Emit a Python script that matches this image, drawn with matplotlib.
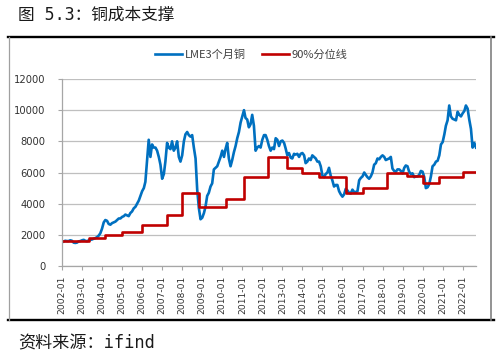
import matplotlib
matplotlib.use("Agg")
import matplotlib.pyplot as plt
import matplotlib.dates as mdates
from matplotlib.lines import Line2D
import pandas as pd

plt.rcParams["font.family"] = ["Noto Sans CJK SC", "DejaVu Sans"]

# LME 3-month copper, monthly, 2002-01 .. 2022-09 (USD/t)
copper_2002_2005 = [
    1520, 1570, 1620, 1600, 1600, 1650, 1620, 1500, 1480, 1500, 1580, 1600,
    1650, 1680, 1620, 1590, 1640, 1680, 1700, 1750, 1790, 1850, 1950, 2100,
    2400, 2800, 2950, 2900, 2700, 2650, 2750, 2800, 2850, 2950, 3050, 3050,
    3150, 3200, 3300, 3250, 3200, 3400, 3500, 3700, 3800, 4000, 4200, 4500,
]
copper_2006_2011 = [
    4800, 5000, 5400, 6800, 8100, 7000, 7800, 7600, 7600, 7400, 7000, 6500,
    5600, 5900, 6700, 7900, 7600, 7500, 8000, 7400, 7600, 8000, 7000, 6700,
    7100, 8000, 8450, 8600, 8400, 8300, 8400, 7600, 6900, 4900, 3700, 3000,
    3100, 3400, 3800, 4500, 4700, 5100, 5300, 6200, 6300, 6400, 6700, 7000,
    7400, 7000, 7500, 7900, 6900, 6400, 6800, 7300, 7700, 8200, 8600, 9200,
    9600, 10000, 9500, 9400, 8900, 9100, 9700, 9000, 7400, 7600, 7700, 7600,
]
copper_2012_2017 = [
    8100, 8400, 8400, 8100, 7700, 7400, 7600, 7500, 8200, 8100, 7700, 8000,
    8050, 7900, 7550, 7100, 7250, 6950, 6900, 7200, 7150, 7200, 7000, 7200,
    7250, 7100, 6600, 6700, 6900, 6800, 7100, 7000, 6900, 6700, 6700, 6400,
    5800, 5700, 5900, 6000, 6300, 5800, 5500, 5100, 5200, 5200, 4800, 4600,
    4450, 4600, 4950, 4850, 4700, 4650, 4900, 4750, 4750, 4800, 5500, 5650,
    5750, 6000, 5850, 5700, 5600, 5750, 6000, 6500, 6600, 6900, 6850, 7000,
]
copper_2018_2022 = [
    7100, 7000, 6800, 6850, 6900, 7000, 6250, 6100, 6050, 6200, 6200, 6100,
    5950, 6300, 6450, 6400, 6050, 5900, 5950, 5700, 5750, 5750, 5850, 6100,
    6050, 5700, 5000, 5050, 5250, 5750, 6400, 6500, 6700, 6750, 7100, 7800,
    7950, 8450, 9000, 9350, 10300, 9600, 9450, 9400, 9350, 9900, 9700, 9600,
    9800, 9950, 10300, 10100, 9400, 8800, 7600, 7900, 7600,
]
copper = copper_2002_2005 + copper_2006_2011 + copper_2012_2017 + copper_2018_2022
copper_dates = pd.date_range("2002-01-01", periods=len(copper), freq="MS")

# 90% quantile cost line: start date of each level and its value
cost_starts = [
    "2002-01-01", "2003-05-01", "2004-02-15", "2005-01-01", "2006-01-01",
    "2007-03-25", "2008-01-01", "2008-11-01", "2010-03-01", "2011-02-01",
    "2012-04-07", "2013-03-20", "2014-01-01", "2014-11-01", "2016-03-01",
    "2017-01-01", "2018-03-20", "2019-03-20", "2020-01-01", "2020-11-01",
    "2022-01-01", "2022-09-01",
]
cost_values = [
    1600, 1800, 2000, 2200, 2600, 3300, 4700, 3800, 4300, 5700,
    7000, 6300, 6000, 5700, 4700, 5000, 6000, 5800, 5300, 5700,
    6050, 6050,
]
cost_dates = pd.to_datetime(cost_starts)

tick_years = list(range(2002, 2023))
y_ticks = [0, 2000, 4000, 6000, 8000, 10000, 12000]

fig = plt.figure(figsize=(5.02, 3.57), dpi=100)
ax = fig.add_axes([0.1235, 0.2549, 0.8247, 0.5238])

ax.plot(copper_dates, copper, color="#0070C0", lw=1.9, label="LME3个月铜")
ax.plot(cost_dates, cost_values, color="#C00000", lw=1.9,
        drawstyle="steps-post", label="90%分位线")

ax.set_xlim(copper_dates[0], copper_dates[-1])
ax.set_ylim(0, 12000)
ax.set_yticks(y_ticks)
ax.set_yticklabels([str(v) for v in y_ticks], fontsize=7.2, family="DejaVu Sans",
                   color="#333333")
ax.set_xticks(pd.to_datetime([f"{y}-01-01" for y in tick_years]))
ax.xaxis.set_major_formatter(mdates.DateFormatter("%Y-%m"))
for lab in ax.get_xticklabels():
    lab.set_rotation(90)
    lab.set_fontsize(6.6)
    lab.set_family("DejaVu Sans")
    lab.set_color("#333333")

ax.grid(axis="y", color="#BFBFBF", lw=0.9)
ax.set_axisbelow(True)
for side in ["top", "right"]:
    ax.spines[side].set_visible(False)
for side in ["left", "bottom"]:
    ax.spines[side].set_color("#A6A6A6")
    ax.spines[side].set_linewidth(0.9)
ax.tick_params(axis="y", length=3, width=0.8, color="#A6A6A6", pad=9)
ax.tick_params(axis="x", length=3, width=0.8, color="#A6A6A6", pad=4)

fig.legend(loc="center", bbox_to_anchor=(0.501, 0.846), ncol=2, frameon=False,
           fontsize=8, handlelength=2.4, handletextpad=0.25, columnspacing=1.5,
           labelcolor="#404040")

# outer frame
fig.add_artist(Line2D([0.016, 0.984], [0.895, 0.895], color="black", lw=1.7))
fig.add_artist(Line2D([0.016, 0.984], [0.105, 0.105], color="black", lw=1.7))
fig.add_artist(Line2D([0.017, 0.017], [0.105, 0.895], color="#A0A0A0", lw=0.9))
fig.add_artist(Line2D([0.978, 0.978], [0.105, 0.895], color="#808080", lw=1.2))

mono_cjk = ["DejaVu Sans Mono", "Noto Sans CJK SC"]
fig.text(0.036, 0.958, "图 5.3：铜成本支撑", fontsize=12, va="center",
         color="#1A1A1A", family=mono_cjk)
fig.text(0.036, 0.039, "资料来源：ifind", fontsize=12.3, va="center",
         color="#1A1A1A", family=mono_cjk)

fig.savefig("out.png", dpi=100)
